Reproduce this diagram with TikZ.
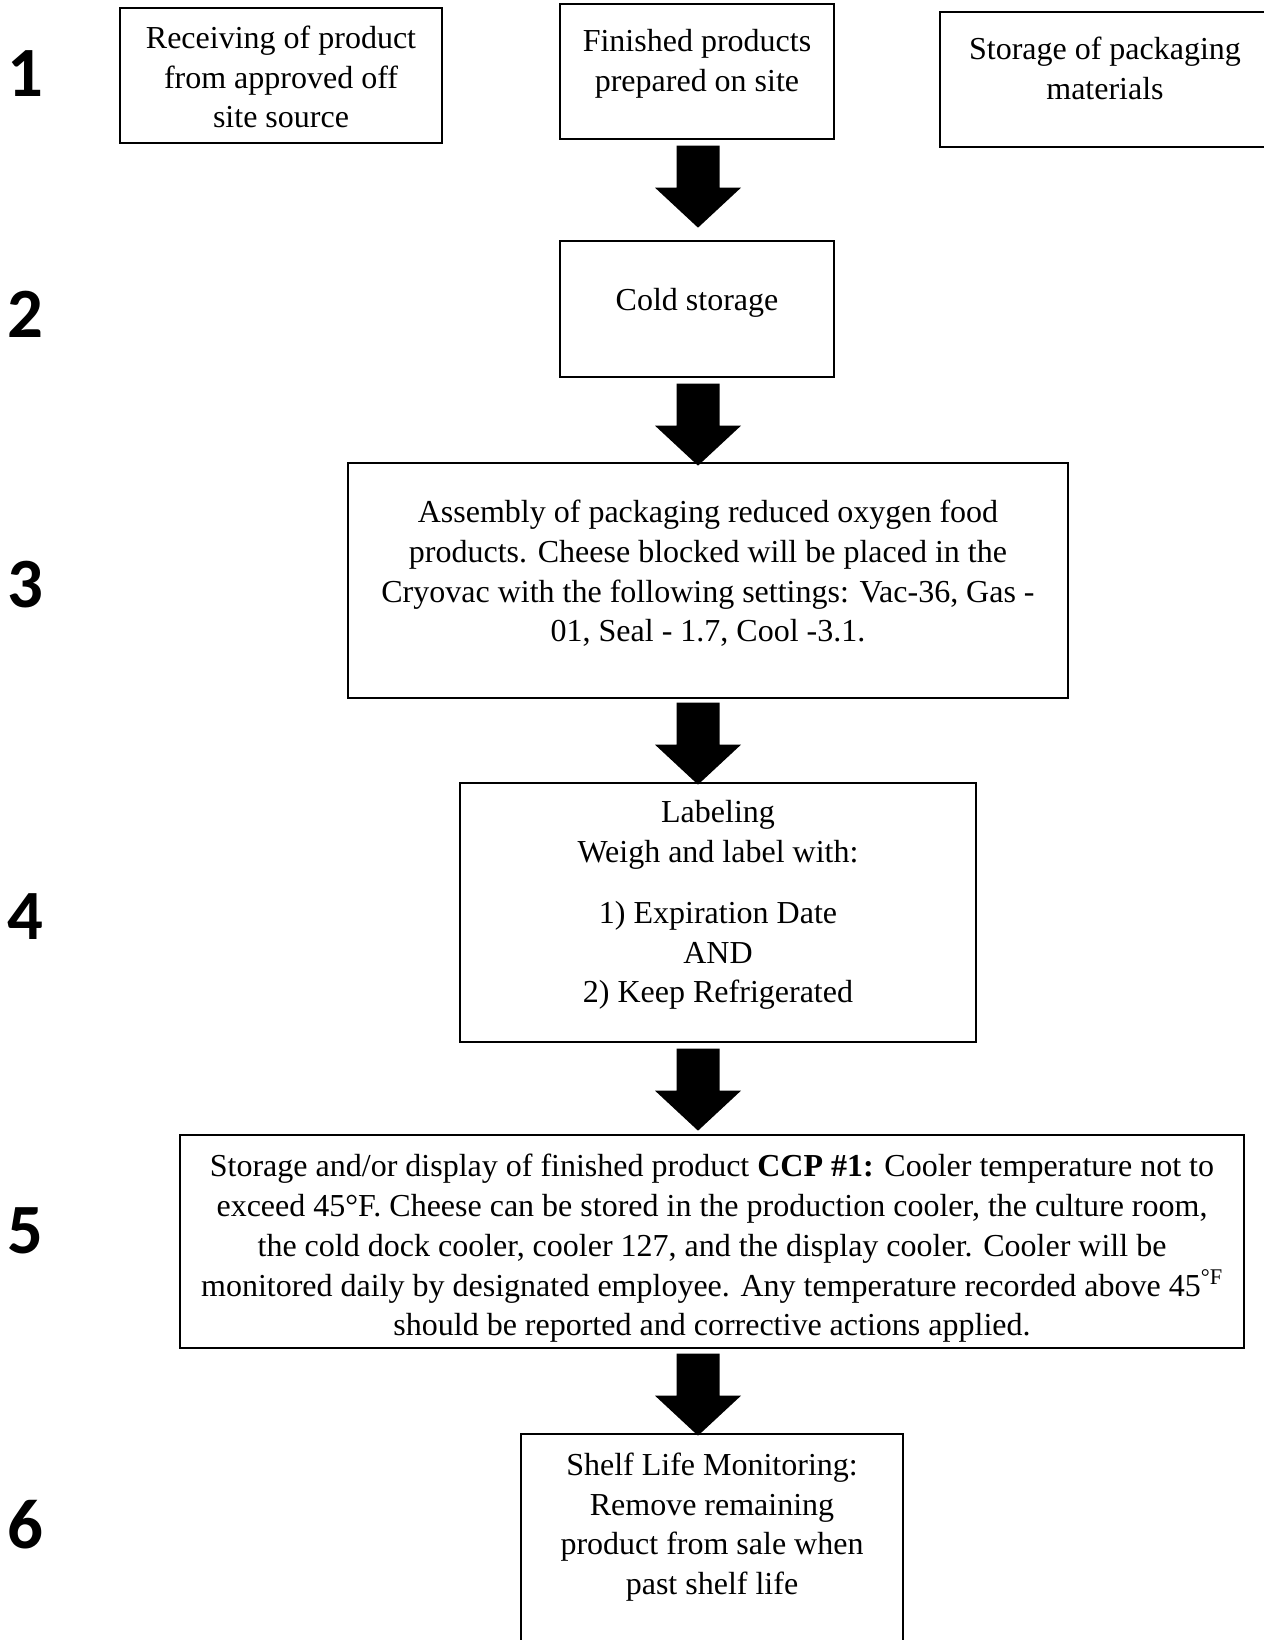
\documentclass[tikz,border=0pt]{standalone}
\usepackage{fontspec}
\setmainfont{Liberation Serif}
\newfontfamily\numfont{Carlito}
\usetikzlibrary{calc}
\newcommand\flowarrow[1]{%
  \fill ($(#1)+(-21.5,0)$) -- ++(43,0) -- ++(0,42) -- ++(21.5,0) -- ++(-43,40) -- ++(-43,-40) -- ++(21.5,0) -- cycle;}
\begin{document}
\begin{tikzpicture}[x=0.75pt,y=-0.75pt,
  box/.style={draw, line width=1pt, inner sep=0pt},
  txt/.style={align=center, font=\fontsize{24pt}{29.8pt}\selectfont, inner sep=0pt},
  num/.style={font=\numfont\bfseries\fontsize{53pt}{60pt}\selectfont, inner sep=0pt, anchor=base west}]
\useasboundingbox[fill=white] (0,0) rectangle (1263,1640);

% boxes
\node[box, minimum width=241.5pt, minimum height=101.25pt] (A) at (281,75.5) {};
\node[box, minimum width=205.5pt, minimum height=101.25pt] (B) at (697,71.5) {};
\node[box, minimum width=247.5pt, minimum height=101.25pt] (C) at (1105,79.5) {};
\node[box, minimum width=205.5pt, minimum height=102pt] (D) at (697,309) {};
\node[box, minimum width=540pt, minimum height=176.25pt] (E) at (708,580.5) {};
\node[box, minimum width=387pt, minimum height=194.25pt] (F) at (718,912.5) {};
\node[box, minimum width=798pt, minimum height=159.75pt] (G) at (712,1241.5) {};
\node[box, minimum width=286.5pt, minimum height=169.5pt] (H) at (712,1547) {};

% texts
\node[txt] (tA) at (281,77) {Receiving of product\\from approved off\\site source};
\node[txt] (tB) at (697,63.5) {Finished products\\prepared on site};
\node[txt] (tC) at (1105,68.5) {Storage of packaging\\materials};
\node[txt] (tD) at (697,302.5) {Cold storage};
\node[txt] (tE) at (708,573.5) {Assembly of packaging reduced oxygen food\\products. Cheese blocked will be placed in the\\Cryovac with the following settings: Vac-36, Gas -\\01, Seal - 1.7, Cool -3.1.};
\node[txt] (tF) at (718,905) {Labeling\\Weigh and label with:\\[16pt]1) Expiration Date\\AND\\2) Keep Refrigerated};
\node[txt] (tG) at (712,1248.5) {Storage and/or display of finished product \textbf{CCP \#1:} Cooler temperature not to\\exceed 45°F. Cheese can be stored in the production cooler, the culture room,\\the cold dock cooler, cooler 127, and the display cooler. Cooler will be\\monitored daily by designated employee. Any temperature recorded above 45\textsuperscript{°F}\\should be reported and corrective actions applied.};
\node[txt] (tH) at (712,1527) {Shelf Life Monitoring:\\Remove remaining\\product from sale when\\past shelf life};

% step numbers
\node[num] (n1) at (7,97) {1};
\node[num] (n2) at (7,338) {2};
\node[num] (n3) at (7,607) {3};
\node[num] (n4) at (7,939) {4};
\node[num] (n5) at (7,1253) {5};
\node[num] (n6) at (7,1548) {6};

% arrows
\coordinate (col) at (698,0);
\coordinate (a1) at ($(B.south -| col)+(0,6)$);
\coordinate (a2) at ($(D.south -| col)+(0,6)$);
\coordinate (a3) at ($(E.south -| col)+(0,4)$);
\coordinate (a4) at ($(F.south -| col)+(0,6)$);
\coordinate (a5) at ($(G.south -| col)+(0,5)$);
\flowarrow{a1}
\flowarrow{a2}
\flowarrow{a3}
\flowarrow{a4}
\flowarrow{a5}
\end{tikzpicture}
\end{document}
